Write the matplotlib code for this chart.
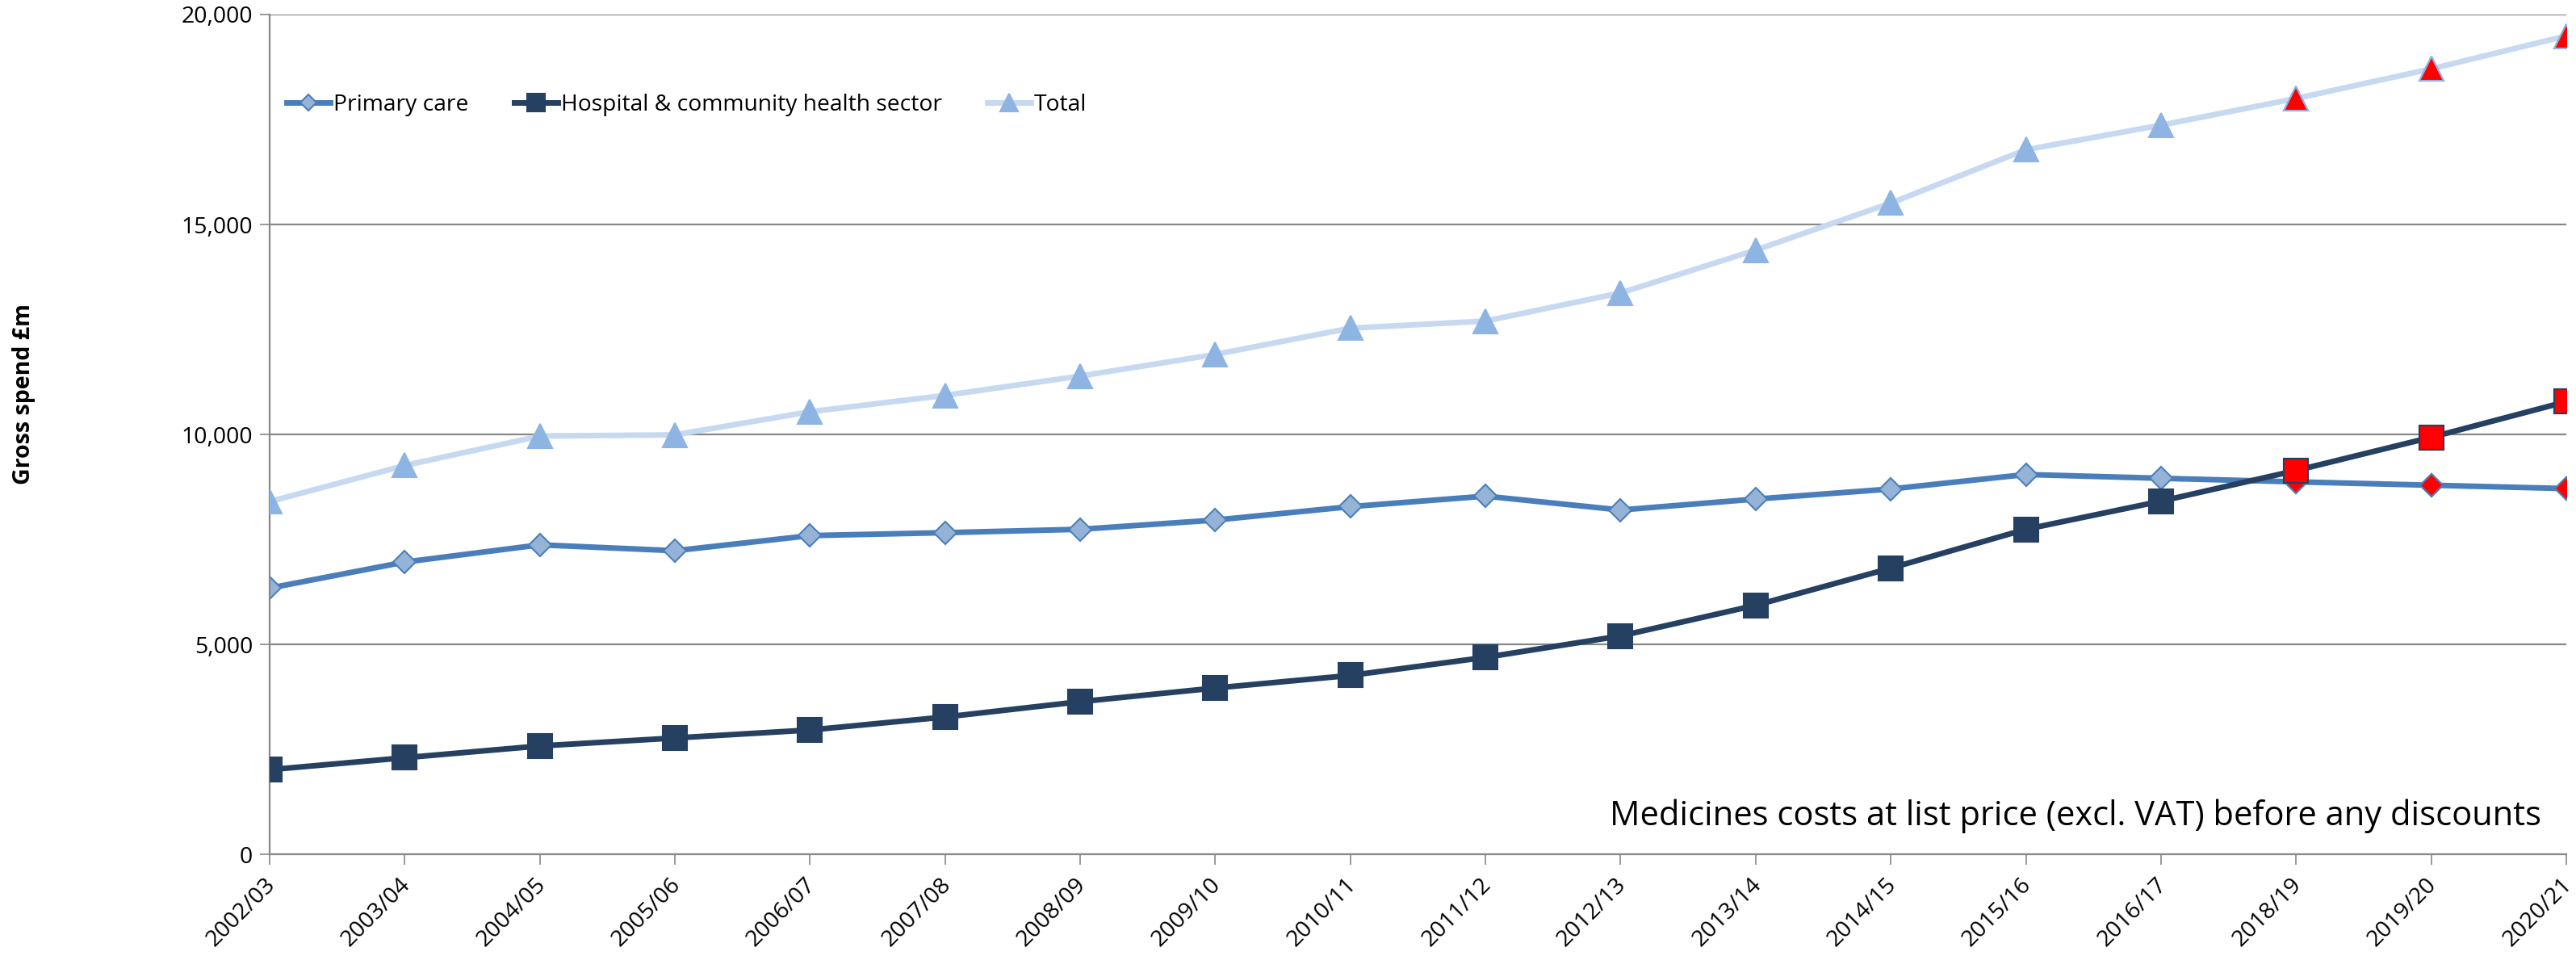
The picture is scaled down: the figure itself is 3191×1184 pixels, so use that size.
import matplotlib
matplotlib.use("Agg")
import matplotlib.pyplot as plt
from matplotlib.ticker import FuncFormatter, MultipleLocator
from matplotlib.transforms import ScaledTranslation

plt.rcParams["font.family"] = ["Open Sans", "DejaVu Sans"]

# financial years on the category axis (2017/18 is not in the source data)
years = [
    "2002/03", "2003/04", "2004/05", "2005/06", "2006/07", "2007/08",
    "2008/09", "2009/10", "2010/11", "2011/12", "2012/13", "2013/14",
    "2014/15", "2015/16", "2016/17", "2018/19", "2019/20", "2020/21",
]

# gross spend, £m
primary_care = [6340, 6960, 7370, 7230, 7590, 7660, 7740, 7960, 8280,
                8530, 8200, 8460, 8700, 9045, 8955, 8870, 8790, 8710]
hospital = [2015, 2300, 2580, 2770, 2960, 3270, 3635, 3960, 4260,
            4690, 5200, 5930, 6815, 7740, 8410, 9140, 9930, 10780]
total = [8400, 9260, 9960, 9990, 10540, 10930, 11390, 11905, 12530,
         12700, 13370, 14390, 15510, 16780, 17365, 18000, 18705, 19490]

# years from here on get red markers
highlight_from = "2018/19"

SERIES = [
    # label, values, line colour, marker, face colour, marker size
    ("Primary care", primary_care, "#4A7EBB", "D", "#95B3D7", 14),
    ("Hospital & community health sector", hospital, "#254061", "s", "#254061", 21),
    ("Total", total, "#C6D9F1", "^", "#8EB4E3", 22),
]
GRID = "#888888"


def draw_chart(output_path):
    fig = plt.figure(figsize=(31.91, 11.84), dpi=100)
    ax = fig.add_axes([0.1047, 0.1064, 0.8915, 0.8784])

    x = list(range(len(years)))
    start = years.index(highlight_from)
    order = {"Primary care": 2, "Hospital & community health sector": 3, "Total": 4}

    for label, values, colour, marker, face, size in SERIES:
        edge = "#8EB4E3" if label == "Total" else colour
        ax.plot(x, values, color=colour, lw=5, marker=marker, ms=size,
                mfc=face, mec=edge, mew=1.5, label=label,
                zorder=order[label], solid_joinstyle="round")
        ax.plot(x[start:], values[start:], ls="none", marker=marker, ms=size,
                mfc="#FF0000", mec=edge, mew=1.5, zorder=order[label] + 0.5)

    ax.set_xlim(0, len(years) - 1)
    ax.set_ylim(0, 20000)
    ax.yaxis.set_major_locator(MultipleLocator(5000))
    ax.yaxis.set_major_formatter(FuncFormatter(lambda v, _: "{:,.0f}".format(v)))
    ax.set_xticks(x)
    ax.set_xticklabels(years, rotation=45, ha="right", rotation_mode="anchor")

    ax.grid(axis="y", color=GRID, lw=1.6, zorder=0)
    ax.set_axisbelow(True)
    for side in ("top", "right"):
        ax.spines[side].set_visible(False)
    for side in ("left", "bottom"):
        ax.spines[side].set_color(GRID)
        ax.spines[side].set_linewidth(1.6)
    ax.tick_params(axis="both", colors=GRID, length=9, width=1.2, labelcolor="black",
                   labelsize=20.5)
    ax.tick_params(axis="x", pad=8)
    ax.tick_params(axis="y", pad=6)

    # nudge the slanted labels a touch left so the last one stays on the canvas
    # (after tick_params, which resets the label transforms)
    shift = ScaledTranslation(-0.07, 0, fig.dpi_scale_trans)
    for tick_label in ax.get_xticklabels():
        tick_label.set_transform(tick_label.get_transform() + shift)

    ax.set_ylabel("Gross spend £m", fontsize=20.5, fontweight="bold")
    ax.yaxis.set_label_coords(-0.102, 0.548)

    ax.legend(loc="center left", bbox_to_anchor=(0.0075, 0.892), frameon=False,
              ncol=3, fontsize=20.3, handlelength=1.9, handletextpad=0.15,
              columnspacing=2.0, borderaxespad=0, borderpad=0, markerscale=0.75)

    ax.text(0.989, 0.045, "Medicines costs at list price (excl. VAT) before any discounts",
            transform=ax.transAxes, ha="right", va="center", fontsize=30)

    fig.savefig(output_path, dpi=100)
    plt.close(fig)


if __name__ == "__main__":
    draw_chart("out.png")
